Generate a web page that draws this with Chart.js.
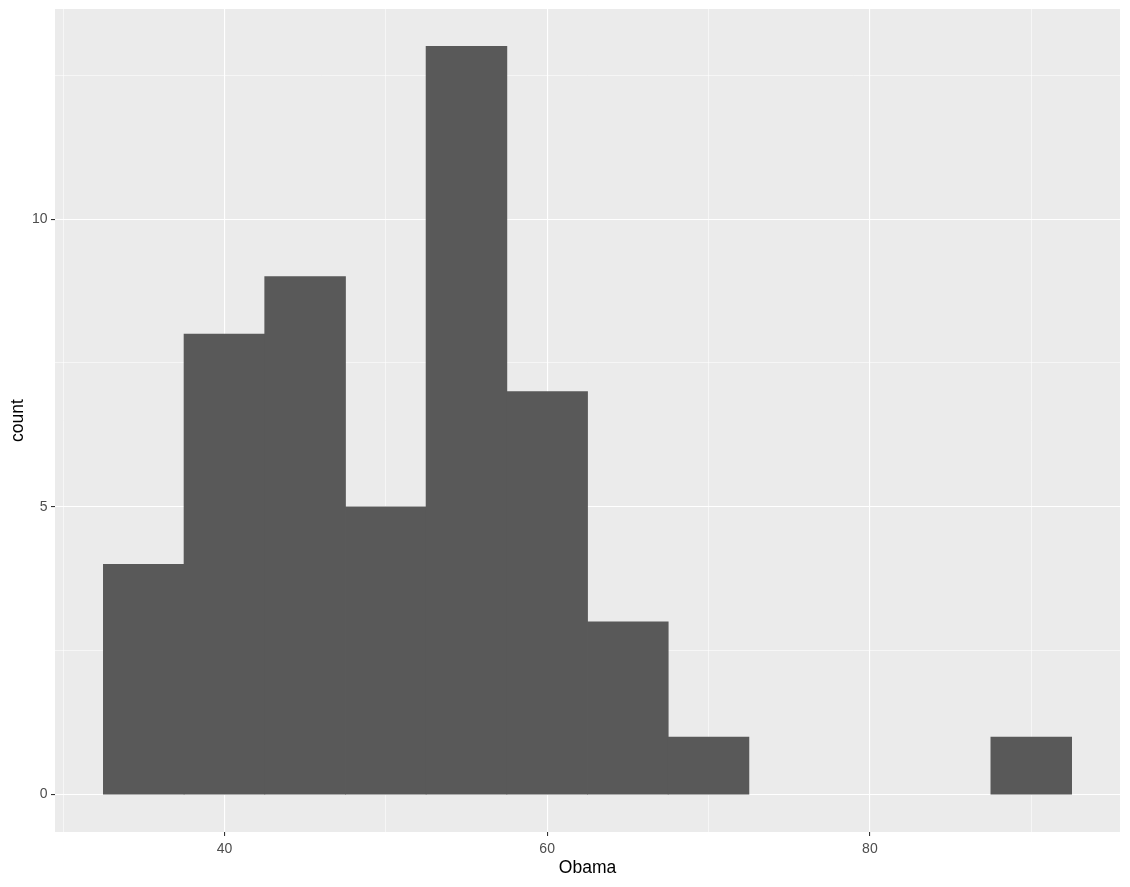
<!DOCTYPE html>
<html lang="en">

<head>
    <meta charset="UTF-8">
    <title>Obama histogram</title>
    <style>
        body { margin: 0; background: #ffffff; }
    </style>
</head>

<body>
    <div style="width: 1130px; height: 887px;">
        <canvas id="myChart"></canvas>
    </div>

    <script src="https://cdn.jsdelivr.net/npm/chart.js"></script>
    <script>
        // histogram bins (binwidth 5) and counts
        const v_binCenters = [35, 40, 45, 50, 55, 60, 65, 70, 75, 80, 85, 90];
        const v_counts = [4, 8, 9, 5, 13, 7, 3, 1, 0, 0, 0, 1];

        // tick / grid values
        const v_xMajor = [40, 60, 80];
        const v_xMinor = [30, 50, 70, 90];
        const v_yMajor = [0, 5, 10];
        const v_yMinor = [2.5, 7.5, 12.5];

        const v_points = [];
        for (let i = 0; i < v_binCenters.length; i++) {
            v_points.push({ x: v_binCenters[i], y: v_counts[i] });
        }

        // grey panel like ggplot
        const panelBg = {
            id: "panelBg",
            beforeDraw(chart) {
                const a = chart.chartArea;
                const c = chart.ctx;
                c.save();
                c.fillStyle = "#EBEBEB";
                c.fillRect(a.left, a.top, a.right - a.left, a.bottom - a.top);
                c.restore();
            }
        };

        function makeTicks(major, minor) {
            return major.concat(minor).sort((a, b) => a - b).map(v => ({ value: v }));
        }

        const tickFont = { family: "'Liberation Sans', Arial, sans-serif", size: 14 };
        const titleFont = { family: "'Liberation Sans', Arial, sans-serif", size: 17.5 };

        const ctx = document.getElementById("myChart");

        new Chart(ctx, {
            type: "bar",
            data: {
                datasets: [{
                    data: v_points,
                    backgroundColor: "#595959",
                    borderWidth: 0,
                    barPercentage: 1.0,
                    categoryPercentage: 1.0,
                    inflateAmount: c => (c.raw && c.raw.y === 0 ? 0 : 0.4)
                }]
            },
            plugins: [panelBg],
            options: {
                responsive: true,
                maintainAspectRatio: false,
                animation: false,
                layout: { padding: { top: 9, right: 10, left: 0, bottom: 0 } },
                plugins: {
                    legend: { display: false },
                    tooltip: { enabled: false }
                },
                scales: {
                    x: {
                        type: "linear",
                        min: 29.5,
                        max: 95.5,
                        offset: false,
                        afterBuildTicks: s => { s.ticks = makeTicks(v_xMajor, v_xMinor); },
                        afterFit: s => { s.height = 55; s.paddingLeft = 0; s.paddingRight = 0; },
                        border: { display: false },
                        grid: {
                            offset: false,
                            tickLength: 4,
                            color: "#FFFFFF",
                            lineWidth: c => (v_xMajor.includes(c.tick.value) ? 1.1 : 0.55),
                            tickColor: c => (v_xMajor.includes(c.tick.value) ? "#333333" : "rgba(0,0,0,0)"),
                            tickWidth: 1.1
                        },
                        ticks: {
                            padding: 4.5,
                            color: "#4D4D4D",
                            font: tickFont,
                            maxRotation: 0,
                            autoSkip: false,
                            callback: v => (v_xMajor.includes(v) ? String(v) : "")
                        },
                        title: {
                            display: true,
                            text: "Obama",
                            color: "#000000",
                            font: titleFont,
                            padding: { top: 0, bottom: 8.5 }
                        }
                    },
                    y: {
                        min: -0.65,
                        max: 13.65,
                        afterBuildTicks: s => { s.ticks = makeTicks(v_yMajor, v_yMinor); },
                        afterFit: s => { s.width = 55; s.paddingTop = 0; s.paddingBottom = 0; },
                        border: { display: false },
                        grid: {
                            tickLength: 4,
                            color: "#FFFFFF",
                            lineWidth: c => (v_yMajor.includes(c.tick.value) ? 1.1 : 0.55),
                            tickColor: c => (v_yMajor.includes(c.tick.value) ? "#333333" : "rgba(0,0,0,0)"),
                            tickWidth: 1.1
                        },
                        ticks: {
                            padding: 3.5,
                            color: "#4D4D4D",
                            font: tickFont,
                            autoSkip: false,
                            callback: v => (v_yMajor.includes(v) ? String(v) : "")
                        },
                        title: {
                            display: true,
                            text: "count",
                            color: "#000000",
                            font: titleFont,
                            padding: { top: 7.5, bottom: 0 }
                        }
                    }
                }
            }
        });
    </script>

</body>

</html>
